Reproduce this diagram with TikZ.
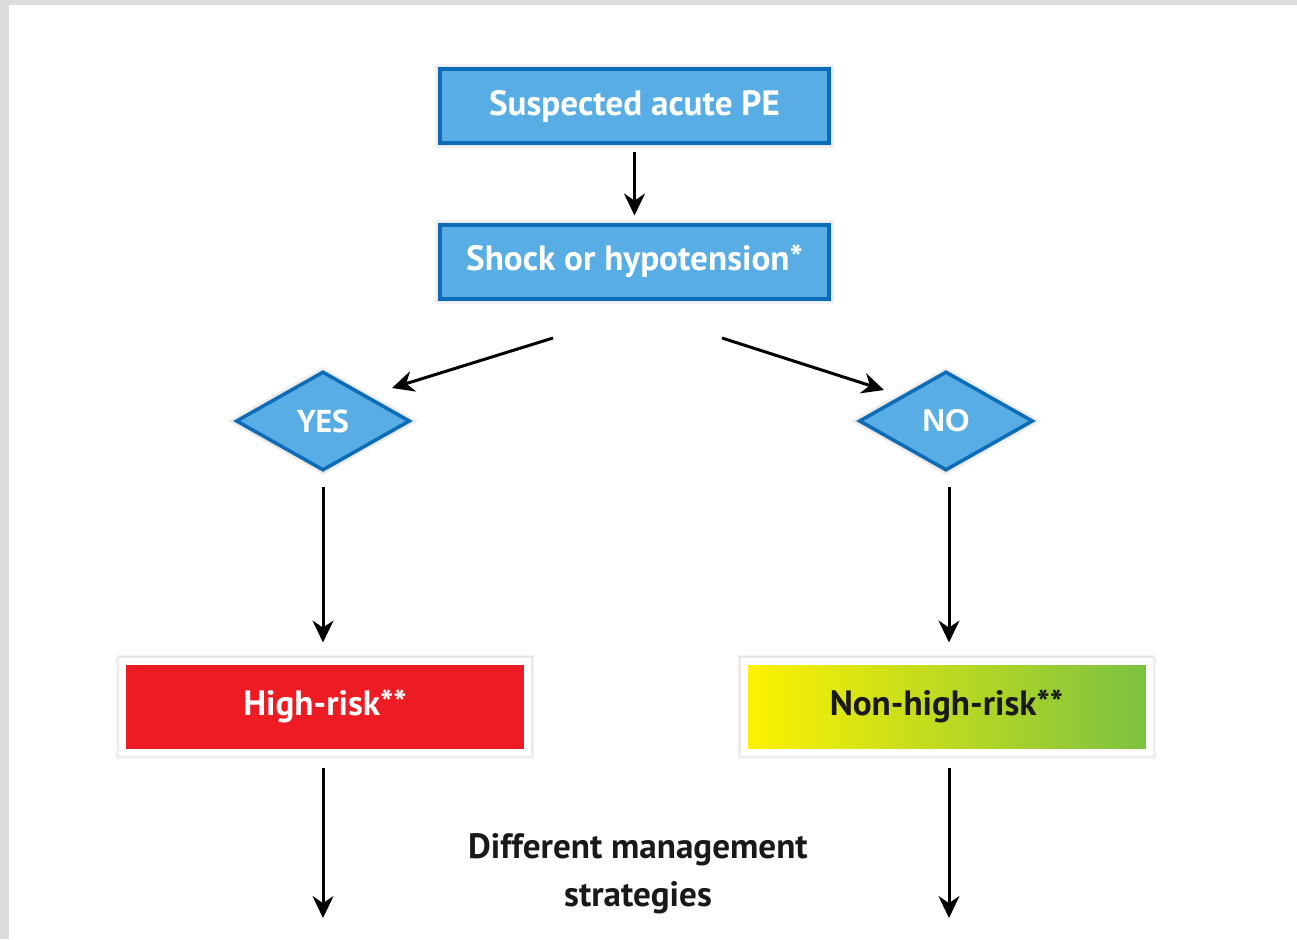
\documentclass[tikz,border=0pt]{standalone}
\usepackage{fontspec}
\setmainfont{PT Sans}
\newfontfamily\arialfont{Liberation Sans}
\usetikzlibrary{shapes.geometric,arrows.meta}

\definecolor{peblue}{RGB}{88,174,228}
\definecolor{peborder}{RGB}{12,108,184}
\definecolor{pered}{RGB}{237,28,36}
\definecolor{peyellow}{RGB}{255,242,0}
\definecolor{pegreen}{RGB}{122,193,66}
\definecolor{pageframe}{RGB}{220,220,220}

\tikzset{
  halo/.style={preaction={draw=black!5, line width=#1+0.12cm}, preaction={draw=black!9, line width=#1+0.06cm}},
  stepbox/.style={draw=peborder, fill=peblue, line width=0.08cm, minimum width=7.78cm, minimum height=1.48cm,
    text=white, font=\bfseries\fontsize{20}{24}\selectfont, halo=0.08cm},
  answer/.style={diamond, draw=peborder, fill=peblue, line width=0.07cm, minimum width=3.48cm, minimum height=1.98cm,
    inner sep=0pt, text=white, halo=0.07cm},
  riskbox/.style={draw=white, line width=0.14cm, minimum width=8.1cm, minimum height=1.82cm,
    font=\bfseries\fontsize{20}{24}\selectfont, halo=0.14cm},
  arr/.style={-{Stealth[length=0.44cm, width=0.42cm]}, line width=0.06cm},
}

\begin{document}
\begin{tikzpicture}
  \useasboundingbox (0,0) rectangle (25.94,-18.78);
  % page frame
  \fill[pageframe] (0,0) rectangle (25.94,-18.78);
  \fill[white] (0.18,-0.1) rectangle (25.94,-18.78);

  % question boxes
  \node[stepbox] (suspect) at (12.69,-2.12) {Suspected acute PE};
  \node[stepbox] (shock) at (12.69,-5.23) {Shock or hypotension*};

  % answers
  \node[answer, font=\bfseries\fontsize{18}{20}\selectfont] (yes) at (6.46,-8.42) {YES};
  \node[answer, font=\arialfont\bfseries\fontsize{18}{20}\selectfont] (no) at (18.92,-8.42) {NO};

  % risk classes
  \node[riskbox, fill=pered, text=white] (high) at (6.5,-14.13) {High-risk**};
  \node[riskbox, left color=peyellow, right color=pegreen, text=black!90] (nonhigh) at (18.93,-14.13) {Non-high-risk**};

  \node[align=center, font=\bfseries\fontsize{20}{27.5}\selectfont, text=black!90] (strategy) at (12.76,-17.48) {Different management\\strategies};

  % free ends
  \coordinate (splitL) at (11.06,-6.76);
  \coordinate (yesin) at (7.84,-7.76);
  \coordinate (splitR) at (14.44,-6.76);
  \coordinate (noin) at (17.68,-7.80);
  \coordinate (highout) at (6.46,-18.36);
  \coordinate (nonhighout) at (18.98,-18.36);

  % connectors
  \draw[arr, shorten <=0.14cm, shorten >=0.14cm] (suspect) -- (shock);
  \draw[arr] (splitL) -- (yesin);
  \draw[arr] (splitR) -- (noin);
  \draw[arr, shorten <=0.3cm, shorten >=0.3cm] (yes.south) -- (yes.south |- high.north);
  \draw[arr, shorten <=0.3cm, shorten >=0.3cm] (nonhighout |- no.south) -- (nonhighout |- nonhigh.north);
  \draw[arr, shorten <=0.24cm] (highout |- high.south) -- (highout);
  \draw[arr, shorten <=0.24cm] (nonhighout |- nonhigh.south) -- (nonhighout);
\end{tikzpicture}
\end{document}
